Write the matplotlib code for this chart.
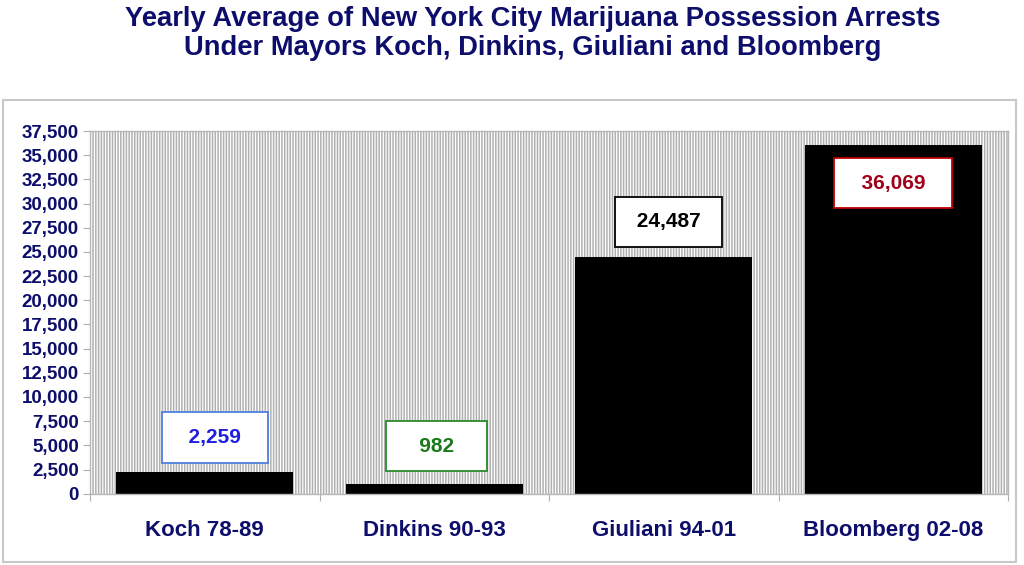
import matplotlib
matplotlib.use("Agg")
import matplotlib.pyplot as plt
from matplotlib.patches import Rectangle
from matplotlib.ticker import FuncFormatter, MultipleLocator

categories = ["Koch 78-89", "Dinkins 90-93", "Giuliani 94-01", "Bloomberg 02-08"]
values = [2259, 982, 24487, 36069]
label_texts = ["2,259", "982", "24,487", "36,069"]
label_colors = ["#1f1fe0", "#1a7a1a", "#000000", "#a00018"]
box_edge_colors = ["#4f7fdf", "#2a8a2a", "#000000", "#c00000"]
label_y = [5800, 4900, 28100, 32100]
label_dx = [0.045, 0.01, 0.02, 0.0]
label_spaces = [2, 3, 1, 2]

plt.rcParams['font.family'] = ['Liberation Sans', 'DejaVu Sans']
plt.rcParams['hatch.linewidth'] = 1.1
navy = "#0d0d6b"

fig = plt.figure(figsize=(10.24, 5.65), dpi=100)
fig.patch.set_facecolor("white")

# outer frame
fig.patches.append(Rectangle((3/1024, 3/565), 1013/1024, 462/565, transform=fig.transFigure,
                             facecolor="none", edgecolor="#c8c8c8", lw=1.5, zorder=0))

ax = fig.add_axes([90/1024, 71.3/565, 918/1024, 362.7/565])
ax.set_facecolor("white")
ax.add_patch(Rectangle((0, 0), 1, 1, transform=ax.transAxes, facecolor="white",
                       edgecolor="#b0b0b0", hatch="||||||", lw=0, zorder=0))

x = [i + 0.5 for i in range(len(categories))]
ax.bar(x, values, width=0.77, color="black", zorder=2)

for xi, t, c, ec, ly, dx, ns in zip(x, label_texts, label_colors, box_edge_colors,
                                    label_y, label_dx, label_spaces):
    sp = " " * ns
    ax.text(xi + dx, ly, sp + t + sp, ha="center", va="center", fontsize=15, fontweight="bold",
            color=c, zorder=4,
            bbox=dict(boxstyle="square,pad=0.75", facecolor="white", edgecolor=ec, lw=1.3))

ax.set_xlim(0, 4)
ax.set_ylim(0, 37500)
ax.yaxis.set_major_locator(MultipleLocator(2500))
ax.yaxis.set_major_formatter(FuncFormatter(lambda v, p: f"{int(v):,}"))
ax.set_xticks([0, 1, 2, 3, 4])
ax.set_xticklabels([])
ax.set_xticks(x, minor=True)
ax.set_xticklabels(categories, minor=True)
ax.tick_params(axis="x", which="minor", length=0, pad=19, labelsize=16, labelcolor=navy)
ax.tick_params(axis="x", which="major", length=5, color="#b0b0b0", direction="out")
ax.tick_params(axis="y", length=5, color="#b0b0b0", labelsize=13.5, labelcolor=navy, pad=3)
for lbl in ax.get_xticklabels(minor=True) + ax.get_yticklabels():
    lbl.set_fontweight("bold")
for s in ax.spines.values():
    s.set_color("#b8b8b8")
    s.set_linewidth(1.0)

fig.text(533/1024, 1 - 19/565, "Yearly Average of New York City Marijuana Possession Arrests",
         ha="center", va="center", fontsize=19.7, fontweight="bold", color=navy)
fig.text(533/1024, 1 - 48/565, "Under Mayors Koch, Dinkins, Giuliani and Bloomberg",
         ha="center", va="center", fontsize=19.7, fontweight="bold", color=navy)

fig.savefig("out.png", dpi=100, facecolor="white")
